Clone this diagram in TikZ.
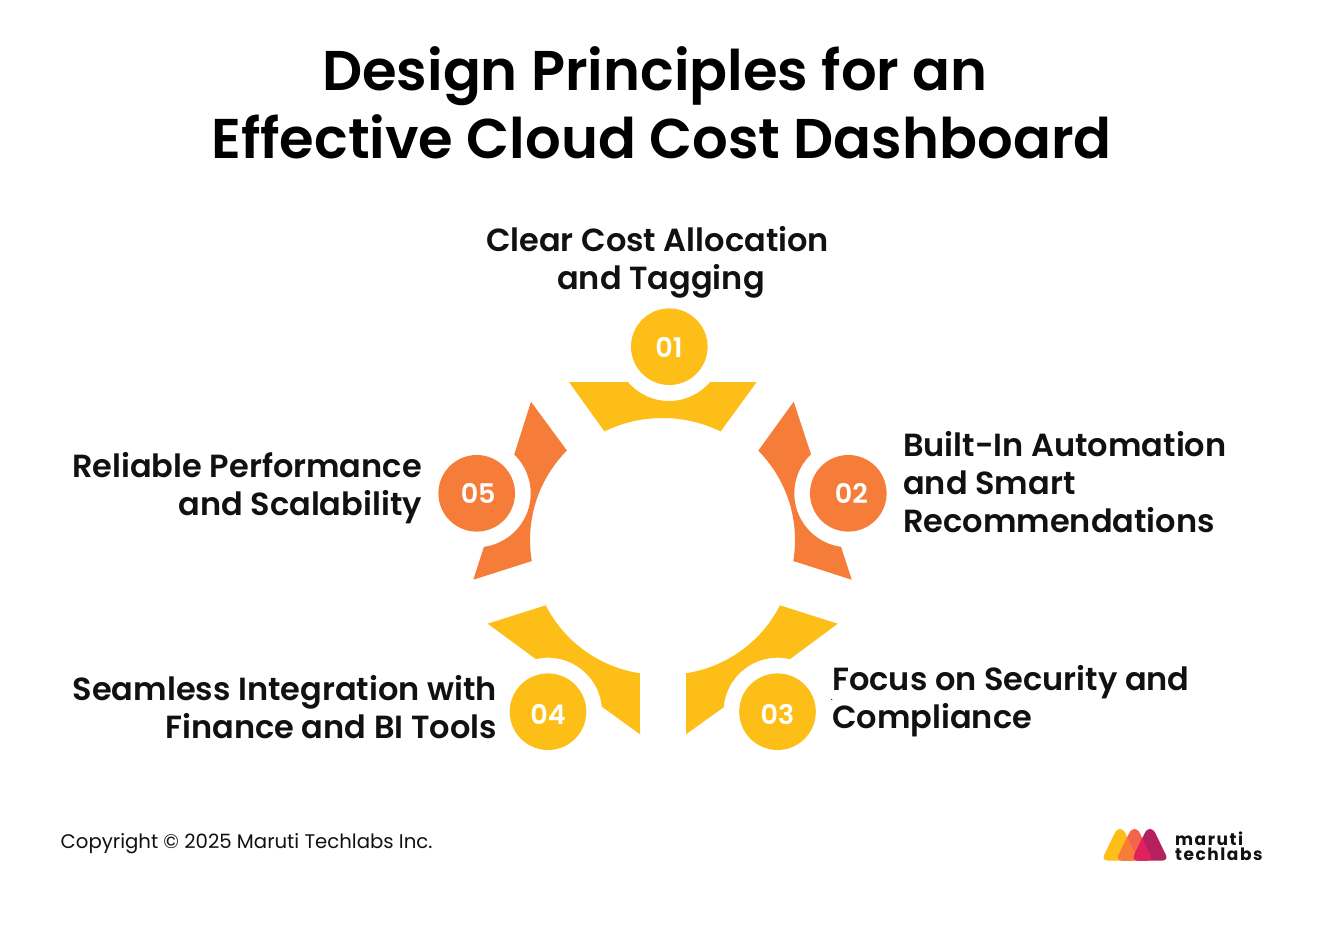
\documentclass[tikz,border=0pt]{standalone}
\usepackage{fontspec}
\setmainfont{Poppins}
\newfontfamily\semi{Poppins SemiBold}
\newfontfamily\logof{Poppins Bold}[LetterSpace=9]
\definecolor{ygold}{HTML}{FDBF17}
\definecolor{oorange}{HTML}{F67C3A}
\definecolor{inkc}{HTML}{111111}
\definecolor{logored}{HTML}{F4644A}
\definecolor{logopink}{HTML}{E0215E}
\definecolor{logoplum}{HTML}{B5205F}
\tikzset{
 titletext/.style={font=\semi\fontsize{56}{68}\selectfont,text=black,align=center,inner sep=0,anchor=north},
 labeltext/.style={font=\semi\fontsize{32}{38}\selectfont,text=inkc,inner sep=0},
 numdisc/.style={circle,minimum size=76.6,inner sep=0},
 numtext/.style={inner sep=0,text=white,font=\semi\fontsize{27}{27}\selectfont},
 arcs/.style={domain=#1,samples=36,variable=\t},
 logotri/.style={insert path={(#1,860.5) [rounded corners=6]-- (#1+18.5,860.5) [rounded corners=13]-- (#1,822) [rounded corners=6]-- (#1-18.5,860.5) [sharp corners]-- cycle}},
}
\begin{document}
\begin{tikzpicture}[x=1pt,y=-1pt]
\useasboundingbox (0,0) rectangle (1322,926);
\fill[white] (0,0) rectangle (1322,926);
\node[titletext] (title) at (661.5,46) {Design Principles for an\kern13pt\\Effective Cloud Cost Dashboard};
% segments
\fill[ygold] (569,382) -- (628.3,382) -- plot[arcs=139.3:40.5] ({669+54*cos(\t)},{347+54*sin(\t)}) -- (710,382) -- (756.7,382) -- (720.7,431.3) -- plot[arcs=-64:-116] ({662.5+132.5*cos(\t)},{550.5+132.5*sin(\t)}) -- cycle;
\fill[oorange] (793.7,401.7) -- (811,454.3) -- plot[arcs=226.3:97.7] ({848.3+54*cos(\t)},{493.3+54*sin(\t)}) -- (851.7,579.7) -- (794.3,561.3) -- plot[arcs=9.6:-44.7] ({668+127*cos(\t)},{540+127*sin(\t)}) -- cycle;
\fill[oorange] (531,401.7) -- (514.3,454.3) -- plot[arcs=-46:82.3] ({476.7+54*cos(\t)},{493.3+54*sin(\t)}) -- (473.3,579.7) -- (531,561.3) -- plot[arcs=170.4:224.8] ({657+127*cos(\t)},{540+127*sin(\t)}) -- cycle;
\fill[ygold] (487.7,623.7) -- (545.7,605.3) -- plot[arcs=153:98.6] ({658.9+127*cos(\t)},{547.7+127*sin(\t)}) -- (640,734.3) -- (602.3,707) -- plot[arcs=-4.9:-103] ({548+54*cos(\t)},{711.7+54*sin(\t)}) -- cycle;
\fill[ygold] (837.7,623.7) -- (780,605.3) -- plot[arcs=27:81.3] ({666.8+127*cos(\t)},{547.7+127*sin(\t)}) -- (686,734.3) -- (724,707) -- plot[arcs=185:283.3] ({777.5+54*cos(\t)},{711.7+54*sin(\t)}) -- cycle;
% discs
\node[numdisc,fill=ygold] (n1) at (669.3,346.7) {};
\node[numdisc,fill=oorange] (n2) at (848.3,493.3) {};
\node[numdisc,fill=ygold] (n3) at (777.5,711.7) {};
\node[numdisc,fill=ygold] (n4) at (548,711.7) {};
\node[numdisc,fill=oorange] (n5) at (476.7,493.3) {};
\node[numtext] (t1) at (669,347.2) {01};
\node[numtext] (t2) at (851.3,493.8) {02};
\node[numtext] (t3) at (777.5,714.2) {03};
\node[numtext] (t4) at (548,714.2) {04};
\node[numtext] (t5) at (478.2,493.8) {05};
% labels
\node[labeltext,align=center,anchor=south] (l1) at (661,298) {Clear Cost Allocation\kern7pt\\and Tagging};
\node[labeltext,align=left,anchor=west] (l2) at (903,482) {Built-In Automation\\and Smart\\Recommendations};
\node[labeltext,align=left,anchor=west] (l3) at (832,701) {Focus on Security and\\Compliance};
\node[labeltext,align=right,anchor=east] (l4) at (497,707) {Seamless Integration with\\Finance and BI Tools};
\node[labeltext,align=right,anchor=east] (l5) at (422,488) {Reliable Performance\\and Scalability};
\fill[inkc] (831.7,699.5) circle (0.7);
% footer
\node[font=\fontsize{19.7}{24}\selectfont,text=inkc,inner sep=0,anchor=base west] (copy) at (60.5,848) {Copyright © 2025 Maruti Techlabs Inc.};
% logo
\fill[ygold,logotri=1120];
\fill[logored,logotri=1134.5];
\fill[logoplum,logotri=1150];
\begin{scope}
\clip[logotri=1120];
\fill[oorange,logotri=1134.5];
\end{scope}
\begin{scope}
\clip[logotri=1134.5];
\fill[logopink,logotri=1150];
\end{scope}
\node[font=\logof\fontsize{17}{15}\selectfont,text=inkc,inner sep=0,align=left,anchor=west] (logo) at (1175,846) {maruti\\techlabs};
\end{tikzpicture}
\end{document}
